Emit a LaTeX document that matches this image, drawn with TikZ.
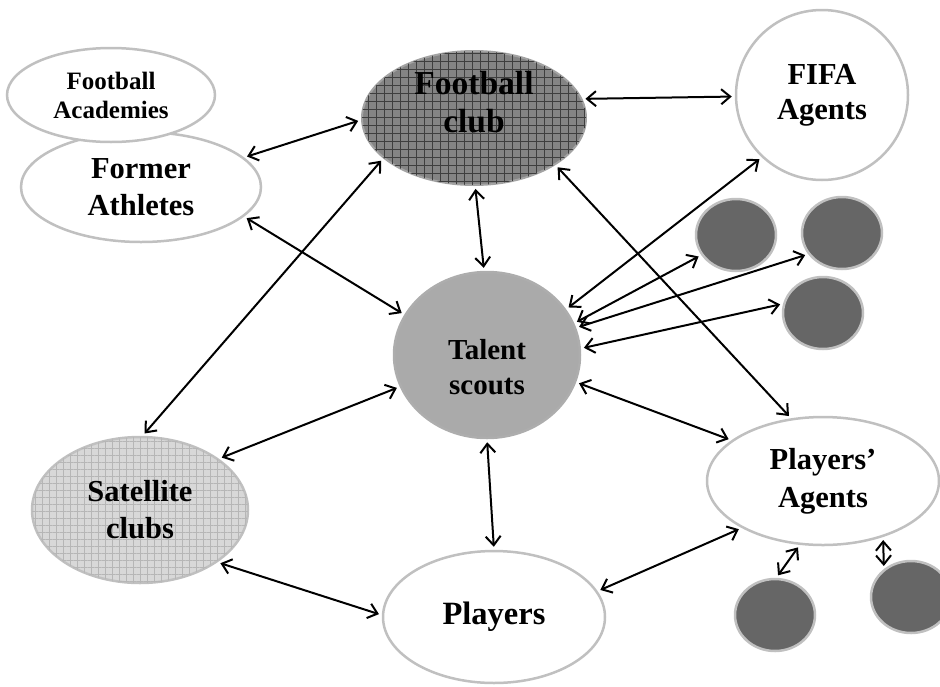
\documentclass[tikz,border=0pt]{standalone}
\usepackage{fontspec}
\setmainfont{Liberation Serif}
\usepackage{tikz}
\usetikzlibrary{shapes.geometric}
\usetikzlibrary{arrows.meta}
\usetikzlibrary{patterns.meta}
\definecolor{rimgray}{RGB}{192,192,192}
\definecolor{clubgray}{RGB}{132,132,132}
\definecolor{clubgrid}{RGB}{62,62,62}
\definecolor{satgray}{RGB}{216,216,216}
\definecolor{satgrid}{RGB}{182,182,182}
\definecolor{scoutgray}{RGB}{170,170,170}
\definecolor{dotgray}{RGB}{102,102,102}

\begin{document}
\begin{tikzpicture}[x=1pt,y=-1pt]
      \useasboundingbox (0,0) rectangle (940,686);
      % bubbles
      \begin{scope}[every node/.style={ellipse, draw=rimgray, line width=2.5pt, fill=white, inner sep=0pt, align=center, font=\fontsize{30.5}{37}\selectfont\bfseries}]
        \node[minimum width=240pt, minimum height=110pt] (fath) at (141,187) {Former\\Athletes};
        \node[minimum width=208pt, minimum height=94pt, font=\fontsize{25}{29}\selectfont\bfseries] (acad) at (111,95) {Football\\Academies};
        \node[minimum width=224pt, minimum height=134pt, draw=rimgray!85!black, line width=2pt, fill=clubgray,
              postaction={pattern={Hatch[angle=0,distance=8pt,line width=1pt]}, pattern color=clubgrid}] (fc) at (474,118) {};
        \node[minimum width=172pt, minimum height=170pt, font=\fontsize{30.5}{35}\selectfont\bfseries] (fifa) at (822,95) {FIFA\\Agents};
        \node[minimum width=186pt, minimum height=166pt, fill=scoutgray, draw=rimgray!90!black] (ts) at (487,355) {};
        \node[minimum width=216pt, minimum height=146pt, fill=satgray,
              postaction={pattern={Hatch[angle=0,distance=7pt,line width=0.6pt]}, pattern color=satgrid}] (sat) at (140,510) {Satellite\\clubs};
        \node[minimum width=232pt, minimum height=128pt, font=\fontsize{30.5}{38}\selectfont\bfseries] (pa) at (823,481) {Players'\\Agents};
        \node[minimum width=222pt, minimum height=132pt, font=\fontsize{32.5}{37}\selectfont\bfseries] (pl) at (494,617) {Players};
      \end{scope}
      \begin{scope}[every node/.style={ellipse, draw=rimgray, line width=2.5pt, fill=dotgray, inner sep=0pt, minimum width=80pt, minimum height=72pt}]
        \node (c1) at (736,235) {};
        \node (c2) at (842,233) {};
        \node (c3) at (823,313) {};
        \node (c4) at (775,615) {};
        \node (c5) at (911,597) {};
      \end{scope}
      % shifted texts
      \node[align=center, font=\fontsize{33.5}{38}\selectfont\bfseries] (fctext) at ([yshift=16pt]fc.center) {Football\\club};
      \node[align=center, font=\fontsize{29}{35}\selectfont\bfseries] (tstext) at ([yshift=-12pt]ts.center) {Talent\\scouts};
      % links
      \begin{scope}[every edge/.style={draw=black, line width=2pt, <->, >={Straight Barb[length=9pt,width=15pt]}, shorten >=3pt, shorten <=3pt}]
        \path (fc.10.5) edge (fifa.181);
        \path (fc.181) edge (fath.16);
        \path (fath.-16.5) edge (ts.154);
        \path (fc.204.5) edge (sat.88);
        \path (sat.33.5) edge (ts.200.5);
        \path (sat.-34.5) edge (pl.179);
        \path (ts.-90) edge (pl.90);
        \path (pl.14.4) edge (pa.210.6);
        \path (ts.-17) edge (pa.156);
        \path (fc.-30) edge (pa.117);
        \path (fc.-89) edge (ts.92.5);
        \path (ts.30.6) edge (fifa.226);
        \path (ts.20.3) edge (c1.210.5);
        \path (ts.17.9) edge (c2.212.7);
        \path (ts.4.4) edge (c3.167);
        \path (pa.250) edge (c4.88);
        \path (pa.317.5) edge (c5.134);
      \end{scope}
    \end{tikzpicture}
\end{document}
